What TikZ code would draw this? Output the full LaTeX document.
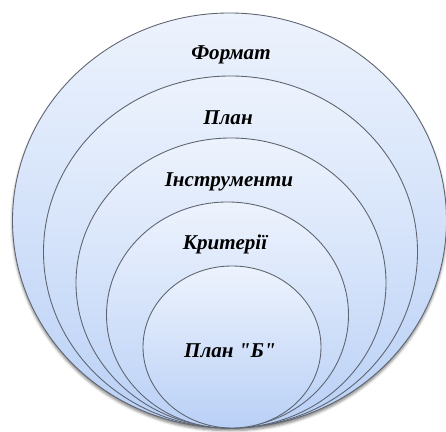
\documentclass[tikz,border=0pt]{standalone}
\usepackage{fontspec}
\setmainfont{Liberation Serif}[Ligatures=TeXOff]
\usepackage{tikz}
\usetikzlibrary{shapes.geometric, shadows.blur}
\usepackage{xcolor}
\definecolor{ringtop}{HTML}{EDF3FD}
\definecolor{ringbot}{HTML}{B9D0F6}
\definecolor{ringline}{HTML}{5E6470}

\begin{document}
\begin{tikzpicture}[
      ring/.style={ellipse, draw=ringline, line width=0.5pt, inner sep=0pt, top color=ringtop, bottom color=ringbot},
      word/.style={font=\fontsize{12}{14}\selectfont\bfseries\itshape, text=black}
    ]
      \useasboundingbox (0,0) rectangle (8.92,8.64);
      \node[ring, minimum width=8.68cm, minimum height=8.30cm, blur shadow={shadow xshift=0pt, shadow yshift=-1.5pt, shadow blur radius=1.5pt, shadow opacity=50}] (r1) at (4.59,4.23) {};
      \node[ring, minimum width=7.48cm, minimum height=7.04cm] (r2) at (4.61,3.60) {};
      \node[ring, minimum width=6.20cm, minimum height=5.80cm] (r3) at (4.62,2.98) {};
      \node[ring, minimum width=4.84cm, minimum height=4.52cm] (r4) at (4.55,2.34) {};
      \node[ring, minimum width=3.56cm, minimum height=3.24cm] (r5) at (4.64,1.70) {};
      \node[word] (format) at (4.62,7.54) {Формат};
      \node[word] (plan) at (4.56,6.28) {План};
      \node[word] (tools) at (4.58,5.00) {Інструменти};
      \node[word] (criteria) at (4.50,3.76) {Критерії};
      \node[word] (planb) at (4.60,1.62) {План "Б"};
    \end{tikzpicture}
\end{document}
